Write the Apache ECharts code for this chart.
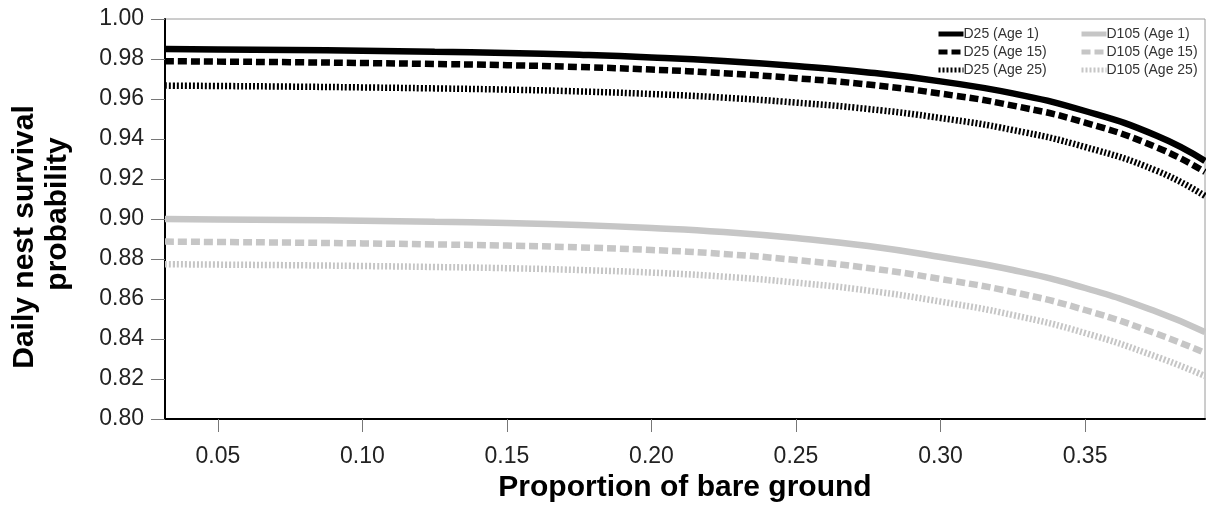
<!DOCTYPE html>
<html>
<head>
<meta charset="utf-8">
<script src="https://cdn.jsdelivr.net/npm/echarts@6/dist/echarts.min.js"></script>
<style>
html,body{margin:0;padding:0;background:#fff;}
#chart{width:1206px;height:511px;}
</style>
</head>
<body>
<div id="chart"></div>
<script>
// ---- data ----
const bareGround = [0.0317, 0.05, 0.075, 0.10, 0.125, 0.15, 0.175, 0.20, 0.225, 0.25, 0.275, 0.30, 0.325, 0.35, 0.375, 0.3915];
const d25Age1   = [0.9850, 0.9848, 0.9845, 0.9841, 0.9836, 0.9830, 0.9821, 0.9808, 0.9790, 0.9765, 0.9733, 0.9688, 0.9628, 0.9540, 0.9415, 0.9290];
const d25Age15  = [0.9789, 0.9787, 0.9784, 0.9780, 0.9775, 0.9769, 0.9760, 0.9747, 0.9729, 0.9704, 0.9672, 0.9627, 0.9567, 0.9482, 0.9357, 0.9235];
const d25Age25  = [0.9667, 0.9665, 0.9662, 0.9658, 0.9653, 0.9647, 0.9638, 0.9625, 0.9607, 0.9582, 0.9550, 0.9505, 0.9445, 0.9360, 0.9240, 0.9115];
const d105Age1  = [0.9000, 0.8998, 0.8995, 0.8991, 0.8986, 0.8980, 0.8970, 0.8955, 0.8935, 0.8905, 0.8865, 0.8810, 0.8745, 0.8655, 0.8535, 0.8435];
const d105Age15 = [0.8887, 0.8885, 0.8882, 0.8878, 0.8873, 0.8867, 0.8858, 0.8845, 0.8825, 0.8795, 0.8755, 0.8700, 0.8635, 0.8545, 0.8425, 0.8330];
const d105Age25 = [0.8774, 0.8772, 0.8769, 0.8765, 0.8760, 0.8754, 0.8745, 0.8732, 0.8712, 0.8682, 0.8642, 0.8587, 0.8520, 0.8430, 0.8310, 0.8215];
const seriesNames = ['D25 (Age 1)', 'D25 (Age 15)', 'D25 (Age 25)', 'D105 (Age 1)', 'D105 (Age 15)', 'D105 (Age 25)'];
const xTicks = [0.05, 0.10, 0.15, 0.20, 0.25, 0.30, 0.35];
const xTitle = 'Proportion of bare ground';
const yTitleLines = ['Daily nest survival', 'probability'];

// ---- chart ----
const FONT = '"Liberation Sans", Arial, Helvetica, sans-serif';
const BLACK = '#000000';
const GRAY = '#c6c6c6';
const styles = [
  {color: BLACK, type: 'solid'},
  {color: BLACK, type: [9, 4]},
  {color: BLACK, type: [2, 2]},
  {color: GRAY, type: 'solid'},
  {color: GRAY, type: [9, 4]},
  {color: GRAY, type: [2, 2]}
];
const values = [d25Age1, d25Age15, d25Age25, d105Age1, d105Age15, d105Age25];

const series = values.map((vals, i) => ({
  name: seriesNames[i],
  type: 'line',
  data: vals.map((v, j) => [bareGround[j], v]),
  symbol: 'none',
  smooth: true,
  color: styles[i].color,
  lineStyle: {color: styles[i].color, width: 6.5, type: styles[i].type, cap: 'butt'},
  z: 10 - (i % 3),
  silent: true,
  animation: false
}));

const legendCommon = {
  orient: 'vertical',
  top: 22,
  itemWidth: 25,
  itemHeight: 10,
  itemGap: 4,
  itemStyle: {opacity: 0},
  lineStyle: {width: 5},
  textStyle: {fontFamily: FONT, fontSize: 14, color: '#333', padding: [0, 0, 0, -5]},
  selectedMode: false
};

const chart = echarts.init(document.getElementById('chart'), null, {renderer: 'canvas'});
chart.setOption({
  animation: false,
  backgroundColor: '#ffffff',
  grid: {left: 165, right: 1, top: 19, bottom: 92, show: true, borderColor: '#9a9a9a', borderWidth: 1},
  legend: [
    Object.assign({}, legendCommon, {left: 931, data: seriesNames.slice(0, 3)}),
    Object.assign({}, legendCommon, {left: 1074, data: seriesNames.slice(3)})
  ],
  xAxis: {
    type: 'value',
    min: bareGround[0],
    max: bareGround[bareGround.length - 1],
    name: xTitle,
    nameLocation: 'middle',
    nameGap: 41,
    nameTextStyle: {fontFamily: FONT, fontSize: 30, fontWeight: 'bold', color: '#000'},
    axisLine: {show: true, onZero: false, lineStyle: {color: '#000', width: 2}},
    axisTick: {show: true, length: 13, customValues: xTicks, lineStyle: {color: '#777', width: 1}},
    axisLabel: {show: true, customValues: xTicks, margin: 26, fontFamily: FONT, fontSize: 23, color: '#222',
      formatter: v => v.toFixed(2)},
    splitLine: {show: false}
  },
  yAxis: {
    type: 'value',
    min: 0.80,
    max: 1.00,
    interval: 0.02,
    axisLine: {show: true, onZero: false, lineStyle: {color: '#000', width: 2}},
    axisTick: {show: true, length: 14, lineStyle: {color: '#777', width: 1}},
    axisLabel: {margin: 21, fontFamily: FONT, fontSize: 23, color: '#222', formatter: v => v.toFixed(2)},
    splitLine: {show: false}
  },
  graphic: [
    {type: 'text', x: 25, y: 237, rotation: Math.PI / 2, silent: true,
      style: {text: yTitleLines[0], fontFamily: FONT, fontSize: 30, fontWeight: 'bold', fill: '#000',
        textAlign: 'center', textVerticalAlign: 'middle'}},
    {type: 'text', x: 58, y: 214, rotation: Math.PI / 2, silent: true,
      style: {text: yTitleLines[1], fontFamily: FONT, fontSize: 30, fontWeight: 'bold', fill: '#000',
        textAlign: 'center', textVerticalAlign: 'middle'}}
  ],
  series: series
});
</script>
</body>
</html>
